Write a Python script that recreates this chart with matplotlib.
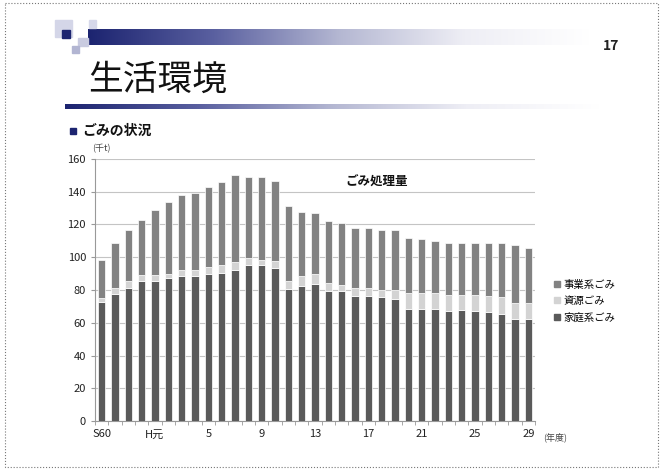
import matplotlib.pyplot as plt
import numpy as np
from matplotlib.patches import Rectangle
from matplotlib.lines import Line2D
from matplotlib.colors import LinearSegmentedColormap

# Japanese font first, fall back to DejaVu
plt.rcParams['font.family'] = ['Noto Sans CJK JP', 'DejaVu Sans']

# ---- data (thousand tonnes), S60 .. H29 ----
years = ['S60', 'S61', 'S62', 'S63', 'H元', '2', '3', '4', '5', '6', '7', '8',
         '9', '10', '11', '12', '13', '14', '15', '16', '17', '18', '19', '20',
         '21', '22', '23', '24', '25', '26', '27', '28', '29']
household = [72.6, 77.6, 81.2, 85.6, 85.6, 87.2, 88.4, 88.4, 89.6, 90.4, 92.0,
             95.0, 95.0, 93.6, 80.6, 82.2, 83.6, 79.6, 79.2, 76.2, 76.2, 75.6,
             74.5, 68.5, 68.5, 68.5, 67.1, 67.5, 67.1, 66.5, 65.5, 62.4, 62.4]
resource = [2.6, 3.6, 4.0, 3.6, 3.6, 2.8, 3.6, 3.6, 4.4, 4.6, 5.0,
            4.6, 3.6, 4.4, 4.6, 6.4, 6.0, 4.4, 4.0, 5.0, 5.0, 4.6,
            5.7, 9.7, 9.7, 9.7, 10.1, 9.7, 10.1, 9.7, 10.1, 9.7, 9.7]
business = [23.4, 27.4, 31.6, 33.6, 39.5, 43.6, 46.0, 47.0, 48.7, 50.7, 53.0,
            49.2, 50.2, 48.8, 45.8, 39.1, 37.3, 37.9, 37.5, 36.4, 36.4, 36.6,
            36.6, 33.5, 32.7, 31.6, 31.4, 31.4, 31.4, 32.4, 33.0, 35.5, 33.6]
tick_labels = ['S60', 'H元', '5', '9', '13', '17', '21', '25', '29']
series_names = ['事業系ごみ', '資源ごみ', '家庭系ごみ']

c_house = '#5a5a5a'
c_res = '#d3d3d3'
c_bus = '#828282'
navy = '#1c2470'

fig = plt.figure(figsize=(6.64, 4.71), dpi=100)

# overlay in pixel coordinates for the slide decorations
deco = fig.add_axes([0, 0, 1, 1])
deco.set_xlim(0, 664)
deco.set_ylim(471, 0)
deco.axis('off')

# dotted slide border
deco.add_patch(Rectangle((5, 3), 653, 464, fill=False, ls=':', lw=0.8, ec='#777777'))

# gradient bars (navy -> white)
grad = np.linspace(0, 1, 256).reshape(1, -1)
cmap = LinearSegmentedColormap.from_list('nv', [navy, '#5a60a0', '#b4b7d2', '#eeeef5', '#ffffff'])
deco.imshow(grad, cmap=cmap, extent=(88, 590, 45, 29), aspect='auto', zorder=1)
deco.imshow(grad, cmap=cmap, extent=(65, 600, 109, 104), aspect='auto', zorder=1)

# small decorative squares
for (x0, y0, w, h, c) in [(55, 20, 17, 17, '#d4d6e8'), (89, 20, 7, 8, '#d6d8ea'),
                          (62, 30, 8, 8, navy), (78, 38, 10, 8, '#c9cbe0'),
                          (72, 46, 7, 7, '#b2b5d2')]:
    deco.add_patch(Rectangle((x0, y0), w, h, color=c, zorder=2))

deco.text(603, 46, '17', fontsize=10, fontweight='bold', color='#222222',
          va='center', ha='left', fontstretch='condensed')
deco.text(88, 80, '生活環境', fontsize=25, color='#111111', va='center', ha='left')
deco.add_patch(Rectangle((70, 128), 6, 6, color=navy))
deco.text(82, 131, 'ごみの状況', fontsize=10, fontweight='bold', color='#111111',
          va='center', ha='left')
deco.text(92, 149, '(千t)', fontsize=6.5, color='#444444', va='center', ha='left')
deco.text(543, 437, '(年度)', fontsize=6.5, color='#444444', va='center', ha='left')

# ---- the chart ----
ax = fig.add_axes([95 / 664, 1 - 421 / 471, 440 / 664, 262 / 471])
x = np.arange(len(years))
h = np.array(household)
r = np.array(resource)
b = np.array(business)
w = 0.55
ax.bar(x, h, width=w, color=c_house, edgecolor='white', linewidth=0.5, zorder=3)
ax.bar(x, r, width=w, bottom=h, color=c_res, edgecolor='white', linewidth=0.5, zorder=3)
ax.bar(x, b, width=w, bottom=h + r, color=c_bus, edgecolor='white', linewidth=0.5, zorder=3)

ax.set_xlim(-0.5, len(years) - 0.5)
ax.set_ylim(0, 160)
ax.set_yticks(np.arange(0, 161, 20))
ax.yaxis.grid(True, color='#c4c4c4', lw=0.8, zorder=0)
ax.set_axisbelow(True)

label_pos = [years.index(t) for t in tick_labels]
ax.set_xticks(label_pos)
ax.set_xticklabels(tick_labels)
ax.set_xticks(np.arange(-0.5, len(years), 1), minor=True)
ax.tick_params(axis='x', which='major', length=0, labelsize=8, colors='#222222', pad=6)
ax.tick_params(axis='x', which='minor', length=3, color='#999999')
ax.tick_params(axis='y', length=3, labelsize=8, colors='#222222', color='#999999')

for s in ['top', 'right']:
    ax.spines[s].set_visible(False)
for s in ['left', 'bottom']:
    ax.spines[s].set_color('#999999')

ax.text(0.64, 0.91, 'ごみ処理量', transform=ax.transAxes, fontsize=9,
        fontweight='bold', ha='center', va='center', color='#111111')

handles = [Line2D([], [], marker='s', ls='', color=c, markersize=4)
           for c in [c_bus, c_res, c_house]]
fig.legend(handles, series_names, loc='center left',
           bbox_to_anchor=(542 / 664, 1 - 301 / 471), frameon=False,
           fontsize=7.5, handletextpad=0.2, labelspacing=0.6, handlelength=1)

fig.savefig('out.png', dpi=100)
